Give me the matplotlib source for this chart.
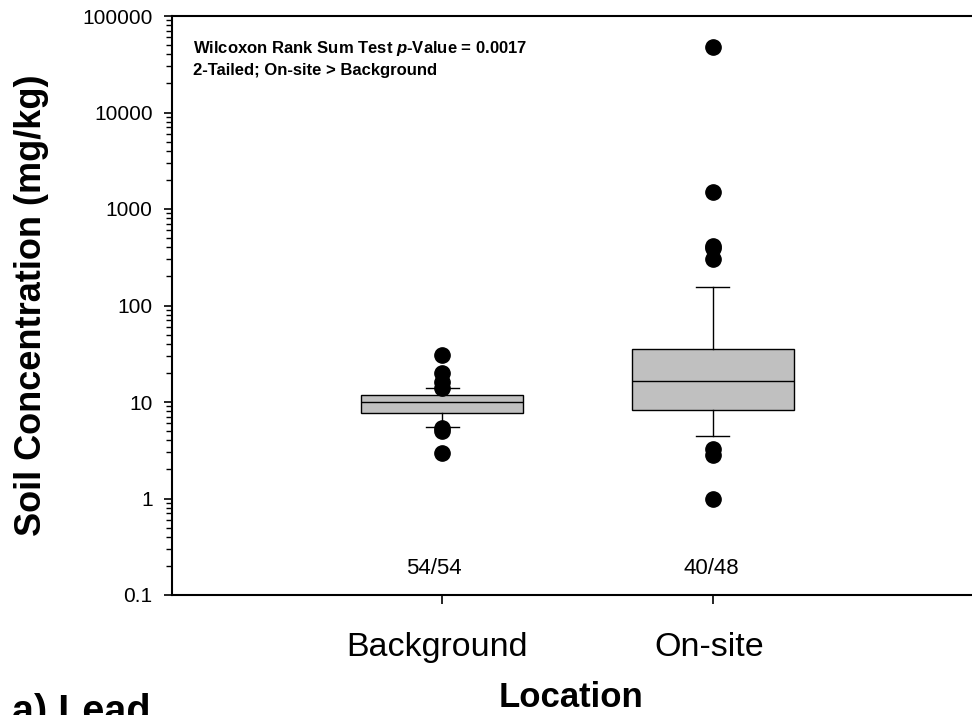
import matplotlib
matplotlib.use("Agg")
import matplotlib.pyplot as plt
from matplotlib.ticker import LogLocator, FixedLocator, NullFormatter

plt.rcParams['font.family'] = ['Liberation Sans', 'DejaVu Sans']
plt.rcParams['mathtext.fontset'] = 'custom'
plt.rcParams['mathtext.it'] = 'Liberation Sans:bold:italic'
plt.rcParams['mathtext.rm'] = 'Liberation Sans:bold'

# ---- data ----
categories = ["Background", "On-site"]
q1 = [7.7, 8.3]
median = [10.0, 16.5]
q3 = [11.8, 35.2]
whisker_low = [5.55, 4.4]
whisker_high = [14.1, 155.0]
outliers_bg = [30.7, 20.1, 16.2, 14.0, 5.4, 5.0, 2.95]
outliers_on = [47700.0, 1500.0, 414.0, 390.0, 303.0, 3.25, 2.8, 1.0]
detect_labels = ["54/54", "40/48"]
yticks = [0.1, 1, 10, 100, 1000, 10000, 100000]
ytick_labels = ["0.1", "1", "10", "100", "1000", "10000", "100000"]

W, H = 972, 715
fig = plt.figure(figsize=(W/100, H/100), dpi=100)
ax = fig.add_axes([172/W, 1 - 595/H, 1 - 172/W + 0.001, (595 - 16)/H])

stats = []
for i, name in enumerate(categories):
    stats.append(dict(label=name, q1=q1[i], med=median[i], q3=q3[i],
                      whislo=whisker_low[i], whishi=whisker_high[i],
                      fliers=[outliers_bg, outliers_on][i]))

ax.bxp(stats, positions=[1, 2], widths=0.6, patch_artist=True,
       boxprops=dict(facecolor='#c0c0c0', edgecolor='black', linewidth=1.0),
       medianprops=dict(color='black', linewidth=1.0),
       whiskerprops=dict(color='black', linewidth=1.0),
       capprops=dict(color='black', linewidth=1.0),
       flierprops=dict(marker='o', markerfacecolor='black', markeredgecolor='black',
                       markersize=11, linestyle='none'),
       capwidths=0.123)

ax.set_yscale('log')
ax.set_ylim(0.1, 100000)
ax.set_xlim(0, 800/270)
ax.set_xticks([1, 2])
ax.set_xticklabels([])
ax.yaxis.set_major_locator(FixedLocator(yticks))
ax.set_yticklabels(ytick_labels, fontsize=15)
ax.yaxis.set_minor_locator(LogLocator(base=10, subs=range(2, 10), numticks=20))
ax.yaxis.set_minor_formatter(NullFormatter())
ax.tick_params(axis='y', which='major', direction='out', length=5.5, width=1.2, pad=8.5)
ax.tick_params(axis='y', which='minor', direction='out', length=4, width=1.0)
ax.tick_params(axis='x', which='major', direction='out', length=6.5, width=1.2)
ax.spines['right'].set_visible(False)
for s in ['left', 'top', 'bottom']:
    ax.spines[s].set_linewidth(1.5)

label_x = [434, 711]
for i, lab in enumerate(detect_labels):
    fig.text(label_x[i]/W, 1 - 574/H, lab, ha='center', va='baseline', fontsize=16)

ax.text((193 - 172)/800, 1 - (48 - 16)/579, r"Wilcoxon Rank Sum Test $p$-Value = 0.0017",
        transform=ax.transAxes, fontsize=12, fontweight='bold', ha='left', va='center')
ax.text((193 - 172)/800, 1 - (71 - 16)/579, "2-Tailed; On-site > Background",
        transform=ax.transAxes, fontsize=12, fontweight='bold', ha='left', va='center')

cat_x = [437, 709]
for i, name in enumerate(categories):
    fig.text(cat_x[i]/W, 1 - 656/H, name, ha='center', va='baseline', fontsize=24.5)

fig.text(32/W, 1 - 305/H, "Soil Concentration (mg/kg)", rotation=90, ha='center',
         va='center', fontsize=26, fontweight='bold')
fig.text(571/W, 1 - 707/H, "Location", ha='center', va='baseline', fontsize=25,
         fontweight='bold')
fig.text(12/W, 1 - 723/H, "a) Lead", ha='left', va='baseline', fontsize=28.5,
         fontweight='bold')

fig.savefig("out.png", dpi=100)
